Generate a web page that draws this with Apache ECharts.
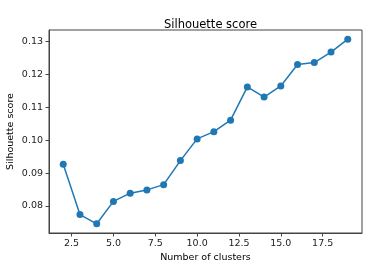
<!DOCTYPE html>
<html><head><meta charset="utf-8">
<script src="https://cdn.jsdelivr.net/npm/echarts@6/dist/echarts.min.js"></script>
<style>html,body{margin:0;padding:0;background:#fff}#c{width:380px;height:267px}</style>
</head><body><div id="c"></div>
<script>
const clusters = [2,3,4,5,6,7,8,9,10,11,12,13,14,15,16,17,18,19];
const scores = [0.0927,0.0774,0.0746,0.0814,0.0839,0.0849,0.0865,0.0938,0.1004,0.1026,0.1061,0.1162,0.1131,0.1165,0.1230,0.1236,0.1268,0.1307];
const xTicks = [2.5,5.0,7.5,10.0,12.5,15.0,17.5];
const yTicks = [0.08,0.09,0.10,0.11,0.12,0.13];

const chart = echarts.init(document.getElementById('c'), null, {renderer:'canvas'});
const font = 'DejaVu Sans';
chart.setOption({
  animation:false,
  backgroundColor:'#fff',
  title:{text:'Silhouette score', left:205.5, textAlign:'center', top:14,
    textStyle:{fontFamily:font, fontSize:11.5, fontWeight:'normal', color:'#000'}},
  grid:{left:49, top:30, right:18, bottom:34, containLabel:false, outerBoundsMode:'none',
    show:true, borderColor:'#444', borderWidth:1, backgroundColor:'transparent'},
  xAxis:{type:'value', min:1.15, max:19.85,
    name:'Number of clusters', nameLocation:'middle', nameGap:20, nameMoveOverlap:false,
    nameTextStyle:{fontFamily:font, fontSize:9.5, color:'#000'},
    axisLine:{show:true, lineStyle:{color:'#444'}},
    axisTick:{show:true, customValues:xTicks, length:3.5, lineStyle:{color:'#444'}},
    axisLabel:{customValues:xTicks, fontFamily:font, fontSize:9.5, color:'#222', margin:6,
      formatter:v=>v.toFixed(1)},
    splitLine:{show:false}},
  yAxis:{type:'value', min:0.0718, max:0.1335,
    name:'Silhouette score', nameLocation:'middle', nameGap:33, nameRotate:90, nameMoveOverlap:false,
    nameTextStyle:{fontFamily:font, fontSize:9.5, color:'#000'},
    axisLine:{show:true, lineStyle:{color:'#444'}},
    axisTick:{show:true, customValues:yTicks, length:3.5, lineStyle:{color:'#444'}},
    axisLabel:{customValues:yTicks, fontFamily:font, fontSize:9.5, color:'#222', margin:6,
      formatter:v=>v.toFixed(2)},
    splitLine:{show:false}},
  series:[{type:'line', data:clusters.map((c,i)=>[c,scores[i]]),
    symbol:'circle', symbolSize:7,
    itemStyle:{color:'#1f77b4'}, lineStyle:{color:'#1f77b4', width:1.5}}]
});
</script></body></html>
